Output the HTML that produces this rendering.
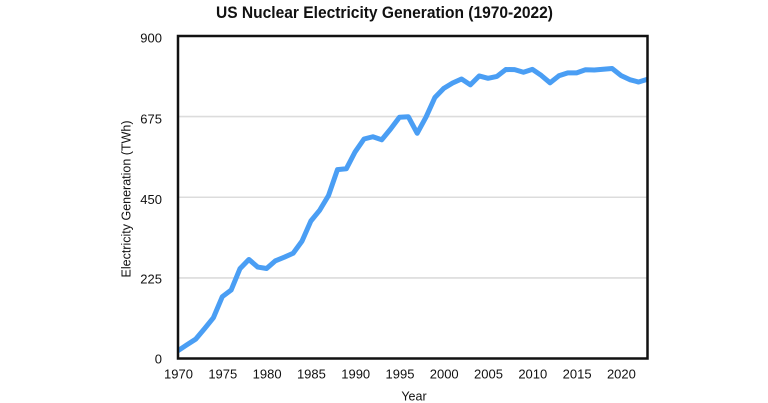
<!DOCTYPE html>
<html>
<head>
<meta charset="utf-8">
<style>
html,body{margin:0;padding:0;background:#fff;}
svg{display:block;}
text{font-family:"Liberation Sans",Arial,sans-serif;fill:#111;}
</style>
</head>
<body>
<svg width="768" height="403" viewBox="0 0 768 403" xmlns="http://www.w3.org/2000/svg">
<rect x="0" y="0" width="768" height="403" fill="#fff"/>
<text x="384.5" y="18" font-size="16.5" font-weight="bold" text-anchor="middle" textLength="337" lengthAdjust="spacingAndGlyphs">US Nuclear Electricity Generation (1970-2022)</text>
<g stroke="#dcdcdc" stroke-width="1.6">
<line x1="179" y1="277.9" x2="647" y2="277.9"/>
<line x1="179" y1="197.25" x2="647" y2="197.25"/>
<line x1="179" y1="116.6" x2="647" y2="116.6"/>
</g>
<defs><clipPath id="c"><rect x="178" y="30" width="469.5" height="328.5"/></clipPath></defs>
<polyline clip-path="url(#c)" fill="none" stroke="#4a9ef4" stroke-width="5" stroke-linejoin="round" stroke-linecap="round" points="178,350.69 186.86,344.85 195.72,339.11 204.57,328.58 213.43,317.65 222.29,296.69 231.15,290.02 240.01,268.59 248.86,259.46 257.72,267.05 266.58,268.52 275.44,260.78 284.3,257.16 293.15,253.26 302.01,241.11 310.87,221.01 319.73,210.15 328.59,195.35 337.44,169.66 346.3,168.8 355.16,151.78 364.02,138.99 372.88,136.76 381.74,139.81 390.59,129.02 399.45,117.2 408.31,116.73 417.17,133.25 426.03,117.09 434.88,97.53 443.74,88.35 452.6,83.02 461.46,78.97 470.32,84.84 479.17,75.96 488.03,78.29 496.89,76.42 505.75,69.54 514.61,69.61 523.46,72.23 532.32,69.33 541.18,75.35 550.04,82.84 558.9,75.78 567.76,72.84 576.61,72.84 585.47,69.8 594.33,70.05 603.19,69.3 612.05,68.47 620.9,75.46 629.76,79.65 638.62,82.05 647.48,79.29"/>
<rect x="178" y="36" width="469.5" height="322.5" fill="none" stroke="#111" stroke-width="2.5"/>
<g font-size="13" text-anchor="end">
<text x="162" y="42.7">900</text>
<text x="162" y="123.3">675</text>
<text x="162" y="204">450</text>
<text x="162" y="283.3">225</text>
<text x="162" y="363.3">0</text>
</g>
<g font-size="13" text-anchor="middle">
<text x="178.5" y="378.3">1970</text>
<text x="222.8" y="378.3">1975</text>
<text x="267.1" y="378.3">1980</text>
<text x="311.4" y="378.3">1985</text>
<text x="355.7" y="378.3">1990</text>
<text x="400" y="378.3">1995</text>
<text x="444.2" y="378.3">2000</text>
<text x="488.5" y="378.3">2005</text>
<text x="532.8" y="378.3">2010</text>
<text x="577.1" y="378.3">2015</text>
<text x="621.4" y="378.3">2020</text>
</g>
<text x="414" y="400.5" font-size="12.5" text-anchor="middle">Year</text>
<text transform="translate(130.5,199) rotate(-90)" x="0" y="0" font-size="12.5" text-anchor="middle">Electricity Generation (TWh)</text>
</svg>
</body>
</html>
